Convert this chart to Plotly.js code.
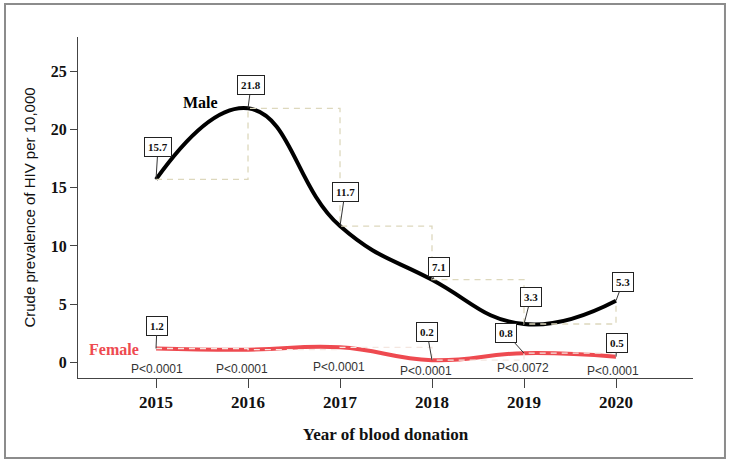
<!DOCTYPE html>
<html>
<head>
<meta charset="utf-8">
<script src="https://cdn.plot.ly/plotly-3.0.1.min.js"></script>
<style>
  html, body { margin: 0; padding: 0; background: #fff; }
  #chart { width: 730px; height: 466px; }
</style>
</head>
<body>
<div id="chart"></div>
<script>
// ---- data ----
const years = [2015, 2016, 2017, 2018, 2019, 2020];
const maleValues = [15.7, 21.8, 11.7, 7.1, 3.3, 5.3];
const femaleValues = [1.2, 1.1, 1.3, 0.2, 0.8, 0.5];
const pValues = ['P<0.0001', 'P<0.0001', 'P<0.0001', 'P<0.0001', 'P<0.0072', 'P<0.0001'];
const maleLabelIdx = [0, 1, 2, 3, 4, 5];
const femaleLabelIdx = [0, 3, 4, 5];

// ---- label placement (pixel offsets, layout only) ----
const maleOffsets = [[2, -32], [3, -23], [5, -34], [7, -13], [7, -27], [7, -19]];
const femaleOffsets = [[1, -23], [-5, -28], [-18, -20], [1, -14]];
const pShift = [[1, -7], [-6, -7], [-1, -5], [-6, -9], [-1, -6], [-3, -9]];

const serif = '"Liberation Serif", "Times New Roman", serif';
const sans = '"Liberation Sans", Arial, sans-serif';
const stepColor = '#ddd8bd';

const traces = [
  { x: years, y: maleValues, mode: 'lines', line: { shape: 'spline', smoothing: 1.3, color: '#000', width: 4 }, hoverinfo: 'skip', showlegend: false },
  { x: years, y: femaleValues, mode: 'lines', line: { shape: 'spline', smoothing: 1.3, color: '#ee4a50', width: 4 }, hoverinfo: 'skip', showlegend: false },
  { x: years, y: maleValues, mode: 'lines', line: { shape: 'hv', color: stepColor, width: 1.3, dash: '6px,5px' }, hoverinfo: 'skip', showlegend: false },
  { x: years, y: femaleValues, mode: 'lines', line: { shape: 'hv', color: '#f4e6e0', width: 1.3, dash: '6px,5px' }, hoverinfo: 'skip', showlegend: false }
];

const annotations = [];
function valueLabel(x, y, off) {
  annotations.push({
    x: x, y: y, xref: 'x', yref: 'y',
    text: '<b>' + y.toFixed(1) + '</b>',
    showarrow: true, arrowhead: 0, arrowwidth: 1, arrowcolor: '#333',
    ax: off[0], ay: off[1],
    bgcolor: '#fff', bordercolor: '#222', borderwidth: 1, borderpad: 3,
    font: { family: serif, size: 11, color: '#111' }
  });
}
maleLabelIdx.forEach((i, k) => valueLabel(years[i], maleValues[i], maleOffsets[k]));
femaleLabelIdx.forEach((i, k) => valueLabel(years[i], femaleValues[i], femaleOffsets[k]));

years.forEach((yr, i) => {
  annotations.push({
    x: yr, y: 0, xref: 'x', yref: 'y', text: pValues[i], showarrow: false,
    xshift: pShift[i][0], yshift: pShift[i][1],
    font: { family: sans, size: 12, color: '#333' }
  });
});

annotations.push({ x: 2015.48, y: 22.3, xref: 'x', yref: 'y', text: '<b>Male</b>', showarrow: false,
  font: { family: serif, size: 16, color: '#000' } });
annotations.push({ x: 2014.54, y: 1.15, xref: 'x', yref: 'y', text: '<b>Female</b>', showarrow: false,
  font: { family: serif, size: 16, color: '#ee4a50' } });

const layout = {
  width: 730, height: 466,
  margin: { l: 78, r: 37, t: 37, b: 88 },
  paper_bgcolor: '#fff', plot_bgcolor: '#fff',
  showlegend: false,
  xaxis: {
    range: [2014.152, 2020.837],
    tickvals: years, ticktext: years.map(String),
    showgrid: false, zeroline: false,
    showline: true, linecolor: '#444', linewidth: 1,
    ticks: 'outside', ticklen: 9, tickcolor: '#444',
    tickfont: { family: serif, size: 17, color: '#111', weight: 'bold' },
    title: { text: '<b>Year of blood donation</b>', font: { family: serif, size: 17, color: '#111' }, standoff: 16 }
  },
  yaxis: {
    range: [-1.33, 27.92],
    tickvals: [0, 5, 10, 15, 20, 25],
    showgrid: false, zeroline: false,
    showline: true, linecolor: '#444', linewidth: 1,
    ticks: 'outside', ticklen: 7, tickcolor: '#444',
    tickfont: { family: serif, size: 16, color: '#111', weight: 'bold' },
    title: { text: 'Crude prevalence of HIV per 10,000', font: { family: sans, size: 15, color: '#111' }, standoff: 11 }
  },
  annotations: annotations,
  shapes: [
    { type: 'rect', xref: 'paper', yref: 'paper', x0: -0.1187, x1: 1.052, y0: -0.2346, y1: 1.0968,
      line: { color: '#8c8c8c', width: 2 }, layer: 'below' }
  ]
};

Plotly.newPlot('chart', traces, layout, { displayModeBar: false, staticPlot: true });
</script>
</body>
</html>
